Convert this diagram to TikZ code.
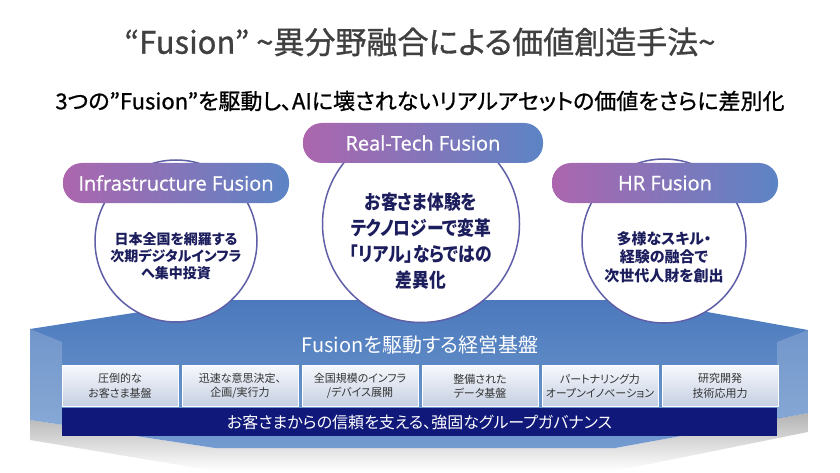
\documentclass[tikz,border=0pt]{standalone}
\usepackage{fontspec}
\setmainfont{Noto Sans CJK JP}[RawFeature=+palt]
\newfontfamily\headfont{Noto Sans CJK JP}[RawFeature=+palt, FakeBold=1]
\newfontfamily\condfont{Noto Sans CJK JP}[RawFeature=+palt, FakeStretch=0.86]
\newfontfamily\pillfont{Open Sans}[FakeBold=0.8]
\usetikzlibrary{positioning,calc}

\definecolor{titlegray}{HTML}{404040}
\definecolor{pillL}{HTML}{AC66AE}
\definecolor{pillR}{HTML}{5C84C5}
\definecolor{ringC}{HTML}{5F5FA8}
\definecolor{navytxt}{HTML}{1C1D5C}
\definecolor{baseTop}{HTML}{4B79BC}
\definecolor{baseMid}{HTML}{5A87C6}
\definecolor{baseBot}{HTML}{739BD0}
\definecolor{boxT}{HTML}{F5F7FB}
\definecolor{boxB}{HTML}{C6D0E3}
\definecolor{boxtxt}{HTML}{333333}
\definecolor{govnavy}{HTML}{10187A}

\begin{document}
\begin{tikzpicture}[
    x=1pt, y=-1pt,
    pill/.style={rounded corners=19pt, minimum height=40pt, left color=pillL, right color=pillR, text=white, font=\pillfont\fontsize{20}{22}\selectfont},
    bubble/.style={circle, draw=ringC, line width=1.5pt, fill=white, inner sep=0pt},
    bubbletxt/.style={align=center, text=navytxt, inner sep=0pt},
    basebox/.style={draw=white, line width=0.6pt, top color=boxT, bottom color=boxB, minimum width=116pt, minimum height=41pt, inner sep=0pt, align=center, text=boxtxt, font=\fontsize{11}{14.5}\selectfont},
    govbar/.style={fill=govnavy, minimum width=715pt, minimum height=28pt, inner sep=0pt, text=white, font=\fontsize{16}{18}\selectfont}
]
    \useasboundingbox (0,0) rectangle (840,473);

    % --- Headings ---
    \node[text=titlegray, font=\headfont\fontsize{31}{33}\selectfont] (title) at (420,42) {“Fusion” \textasciitilde 異分野融合による価値創造手法\textasciitilde};
    \node[text=black, font=\headfont\fontsize{22}{25}\selectfont] (subtitle) at (420,101) {3つの”Fusion”を駆動し、AIに壊されないリアルアセットの価値をさらに差別化};

    % --- Platform (shadow, body, side faces) ---
    \shade[top color=black!30, bottom color=white] (30,420) -- (215,448) -- (615,448) -- (808,413) -- (808,432) -- (615,471) -- (215,471) -- (30,440) -- cycle;
    \shade[top color=baseTop, middle color=baseMid, bottom color=baseBot] (30,329) -- (217,300) -- (640,300) -- (808,330) -- (808,413) -- (615,448) -- (215,448) -- (30,420) -- cycle;
    \fill[white, opacity=0.18] (30,329) -- (62,342) -- (62,425) -- (30,420) -- cycle;
    \fill[white, opacity=0.18] (808,330) -- (777,342) -- (777,418) -- (808,413) -- cycle;

    \node[text=white, font=\fontsize{20}{22}\selectfont] (basetitle) at (420,345) {Fusionを駆動する経営基盤};

    \foreach \i/\txt in {1/{圧倒的な\\お客さま基盤}, 2/{迅速な意思決定、\\企画/実行力}, 3/{全国規模のインフラ\\/デバイス展開}, 4/{整備された\\データ基盤}, 5/{パートナリング力\\オープンイノベーション}, 6/{研究開発\\技術応用力}}
        \node[basebox] (box\i) at (120*\i,386) {\txt};

    \node[govbar] (gov) at (419.5,422) {お客さまからの信頼を支える、強固なグループガバナンス};

    % --- Fusion circles ---
    \node[bubble, minimum size=162pt] (infraC) at (176,241) {};
    \node[bubble, minimum size=197pt] (realC) at (421,224) {};
    \node[bubble, minimum size=164pt] (hrC) at (664,241) {};

    \node[bubbletxt, font=\bfseries\fontsize{14}{17}\selectfont] (infraT) at (176,256) {日本全国を網羅する\\次期デジタルインフラ\\へ集中投資};
    \node[bubbletxt, font=\condfont\bfseries\fontsize{19.5}{26}\selectfont] (realT) at (421,241) {お客さま体験を\\テクノロジーで変革\\「リアル」ならではの\\差異化};
    \node[bubbletxt, font=\bfseries\fontsize{15}{18.5}\selectfont] (hrT) at (664,257) {多様なスキル・\\経験の融合で\\次世代人財を創出};

    % --- Fusion labels ---
    \node[pill, minimum width=226pt] (infra) at (176,183) {Infrastructure Fusion};
    \node[pill, minimum width=240pt] (real) at (423,143) {Real-Tech Fusion};
    \node[pill, minimum width=226pt] (hr) at (665,183) {HR Fusion};
\end{tikzpicture}
\end{document}
